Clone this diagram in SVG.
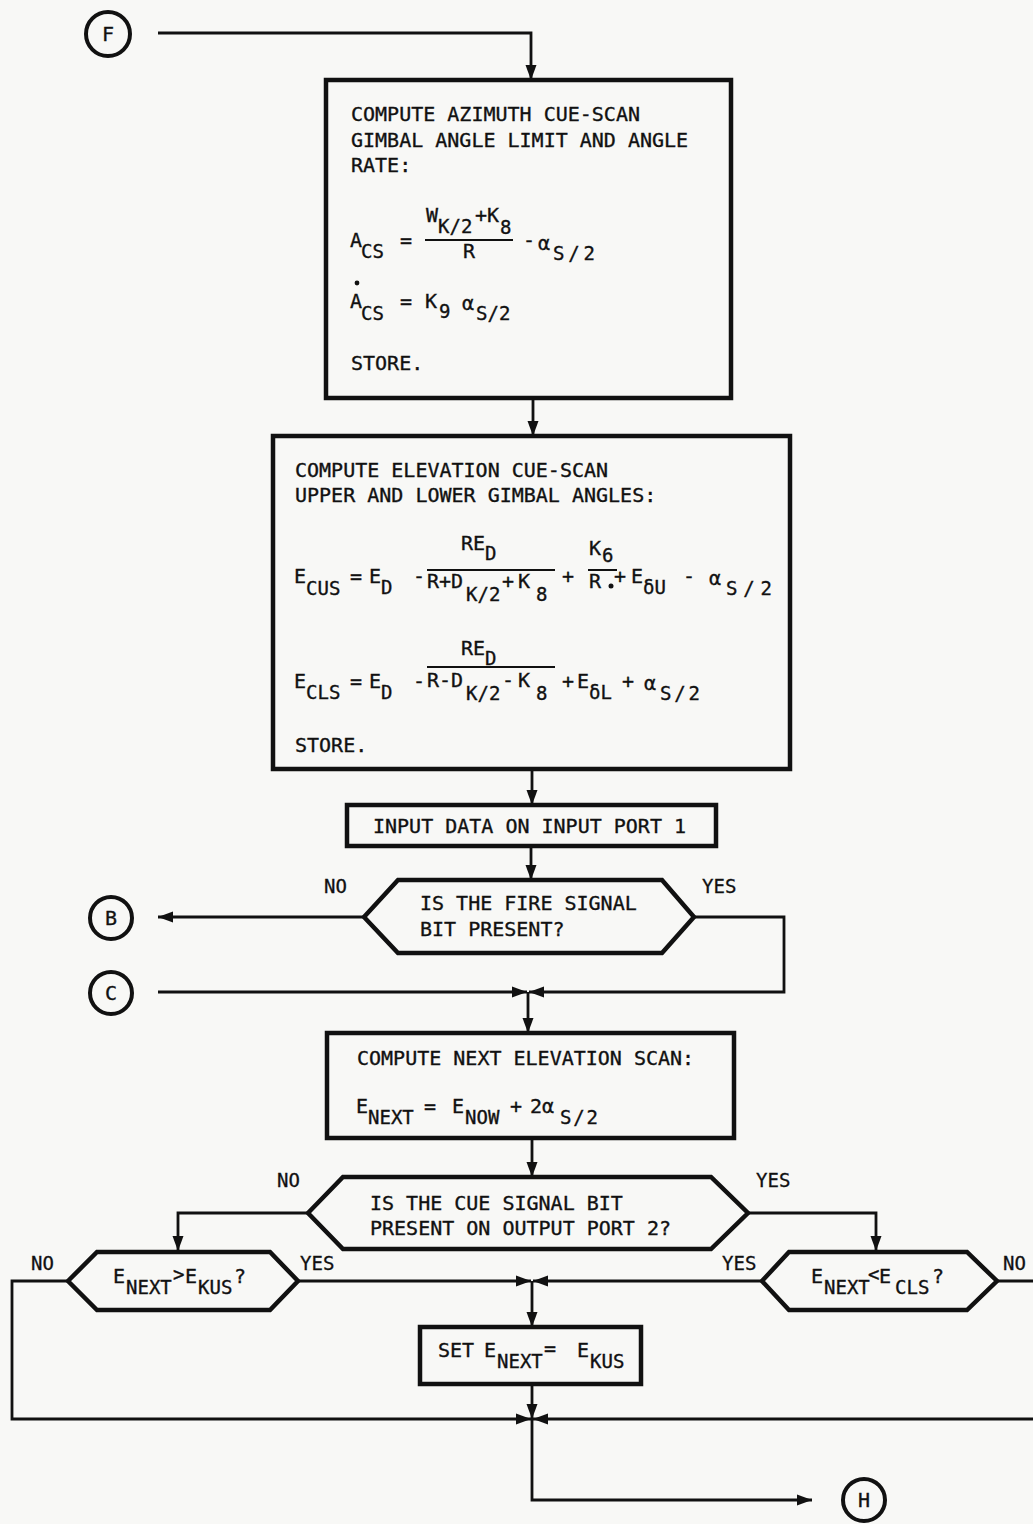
<svg xmlns="http://www.w3.org/2000/svg" width="1033" height="1524" viewBox="0 0 1033 1524">
<style>
.t{font-family:"DejaVu Sans Mono","Liberation Mono",monospace;font-size:20px;fill:#111;stroke:#111;stroke-width:0.35}
.s{font-family:"DejaVu Sans Mono","Liberation Mono",monospace;font-size:19px;fill:#111;stroke:#111;stroke-width:0.35}
.l{font-family:"DejaVu Sans Mono","Liberation Mono",monospace;font-size:19px;fill:#111;stroke:#111;stroke-width:0.3}
.c{font-family:"DejaVu Sans Mono","Liberation Mono",monospace;font-size:20px;fill:#111;text-anchor:middle;stroke:#111;stroke-width:0.35}
.box{fill:none;stroke:#111;stroke-width:4.5}
.hex{fill:none;stroke:#111;stroke-width:4.5;stroke-linejoin:miter}
.circ{fill:none;stroke:#111;stroke-width:4}
.fr{stroke:#111;stroke-width:2}
.con path{fill:none;stroke:#111;stroke-width:2.8}
</style>
<defs>
<marker id="ah" markerUnits="userSpaceOnUse" markerWidth="16" markerHeight="12" refX="15" refY="6" orient="auto">
<path d="M0,0.5 L15,6 L0,11.5 z" fill="#111"/>
</marker>
</defs>
<rect width="1033" height="1524" fill="#f8f8f6"/>

<g id="connectors" class="con">
<path d="M158,33 H531 V80" marker-end="url(#ah)"/>
<path d="M533,398 V436" marker-end="url(#ah)"/>
<path d="M532,769 V805" marker-end="url(#ah)"/>
<path d="M531,846 V880" marker-end="url(#ah)"/>
<path d="M364,917 H158" marker-end="url(#ah)"/>
<path d="M694,917 H784 V992 H529" marker-end="url(#ah)"/>
<path d="M158,992 H527" marker-end="url(#ah)"/>
<path d="M528,992 V1033" marker-end="url(#ah)"/>
<path d="M532,1138 V1177" marker-end="url(#ah)"/>
<path d="M308,1213 H178 V1251" marker-end="url(#ah)"/>
<path d="M748,1213 H876 V1251" marker-end="url(#ah)"/>
<path d="M298,1281 H531" marker-end="url(#ah)"/>
<path d="M762,1281 H533" marker-end="url(#ah)"/>
<path d="M532,1281 V1327" marker-end="url(#ah)"/>
<path d="M532,1384 V1419" marker-end="url(#ah)"/>
<path d="M68,1281 H12 V1419 H531" marker-end="url(#ah)"/>
<path d="M997,1281 H1033"/>
<path d="M1033,1419 H533" marker-end="url(#ah)"/>
<path d="M532,1419 V1500 H812" marker-end="url(#ah)"/>
<text class="l" x="324" y="893">NO</text>
<text class="l" x="702" y="893">YES</text>
<text class="l" x="277" y="1187">NO</text>
<text class="l" x="756" y="1187">YES</text>
<text class="l" x="31" y="1270">NO</text>
<text class="l" x="300" y="1270">YES</text>
<text class="l" x="722" y="1270">YES</text>
<text class="l" x="1003" y="1270">NO</text>
</g>

<g id="node-F">
<circle class="circ" cx="108" cy="34" r="22"/>
<text class="c" x="108" y="41">F</text>
</g>

<g id="node-azimuth">
<rect class="box" x="326" y="80" width="405" height="318"/>
<text class="t" x="351" y="121">COMPUTE AZIMUTH CUE-SCAN</text>
<text class="t" x="351" y="147">GIMBAL ANGLE LIMIT AND ANGLE</text>
<text class="t" x="351" y="172">RATE:</text>
<text class="t" x="350" y="247">A</text>
<text class="s" x="361" y="258">CS</text>
<text class="t" x="400" y="247">=</text>
<text class="t" x="426" y="222">W</text>
<text class="s" x="438" y="233">K/2</text>
<text class="t" x="475" y="222">+</text>
<text class="t" x="487" y="222">K</text>
<text class="s" x="500" y="234">8</text>
<line class="fr" x1="425" y1="240" x2="513" y2="240"/>
<text class="t" x="463" y="258">R</text>
<text class="t" x="523" y="247">-</text>
<text class="t" x="538" y="250">α</text>
<text class="s" x="553" y="260" textLength="42" lengthAdjust="spacing">S/2</text>
<circle cx="357" cy="283" r="2.4" fill="#111"/>
<text class="t" x="350" y="308">A</text>
<text class="s" x="361" y="320">CS</text>
<text class="t" x="400" y="308">=</text>
<text class="t" x="425" y="308">K</text>
<text class="s" x="439" y="318">9</text>
<text class="t" x="462" y="310">α</text>
<text class="s" x="476" y="320">S/2</text>
<text class="t" x="351" y="370">STORE.</text>
</g>

<g id="node-elevation">
<rect class="box" x="273" y="436" width="517" height="333"/>
<text class="t" x="295" y="477">COMPUTE ELEVATION CUE-SCAN</text>
<text class="t" x="295" y="502">UPPER AND LOWER GIMBAL ANGLES:</text>
<text class="t" x="294" y="583">E</text>
<text class="s" x="306" y="595">CUS</text>
<text class="t" x="350" y="583">=</text>
<text class="t" x="369" y="583">E</text>
<text class="s" x="381" y="594">D</text>
<text class="t" x="413" y="583">-</text>
<text class="t" x="461" y="550">RE</text>
<text class="s" x="485" y="560">D</text>
<line class="fr" x1="427" y1="570" x2="555" y2="570"/>
<text class="t" x="427" y="588">R+D</text>
<text class="s" x="466" y="601">K/2</text>
<text class="t" x="502" y="588">+</text>
<text class="t" x="518" y="588">K</text>
<text class="s" x="536" y="601">8</text>
<text class="t" x="562" y="583">+</text>
<text class="t" x="589" y="555">K</text>
<text class="s" x="602" y="562">6</text>
<line class="fr" x1="588" y1="570" x2="617" y2="570"/>
<text class="t" x="589" y="588">R</text>
<circle cx="611" cy="586" r="2.5" fill="#111"/>
<text class="t" x="614" y="583">+</text>
<text class="t" x="631" y="583">E</text>
<text class="s" x="643" y="594">δU</text>
<text class="t" x="683" y="583">-</text>
<text class="t" x="709" y="585">α</text>
<text class="s" x="726" y="595" textLength="46" lengthAdjust="spacing">S/2</text>
<text class="t" x="294" y="688">E</text>
<text class="s" x="306" y="699">CLS</text>
<text class="t" x="350" y="688">=</text>
<text class="t" x="369" y="688">E</text>
<text class="s" x="381" y="699">D</text>
<text class="t" x="413" y="688">-</text>
<text class="t" x="461" y="655">RE</text>
<text class="s" x="485" y="665">D</text>
<line class="fr" x1="427" y1="667" x2="555" y2="667"/>
<text class="t" x="427" y="687">R-D</text>
<text class="s" x="466" y="700">K/2</text>
<text class="t" x="502" y="687">-</text>
<text class="t" x="518" y="687">K</text>
<text class="s" x="536" y="700">8</text>
<text class="t" x="562" y="688">+</text>
<text class="t" x="577" y="688">E</text>
<text class="s" x="589" y="699">δL</text>
<text class="t" x="622" y="688">+</text>
<text class="t" x="644" y="690">α</text>
<text class="s" x="660" y="700" textLength="40" lengthAdjust="spacing">S/2</text>
<text class="t" x="295" y="752">STORE.</text>
</g>

<g id="node-input">
<rect class="box" x="347" y="805" width="369" height="41"/>
<text class="t" x="373" y="833" textLength="313" lengthAdjust="spacing">INPUT DATA ON INPUT PORT 1</text>
</g>

<g id="node-fire">
<path class="hex" d="M364,917 L398,880 H662 L694,917 L662,953 H398 Z"/>
<text class="t" x="420" y="910">IS THE FIRE SIGNAL</text>
<text class="t" x="420" y="936">BIT PRESENT?</text>
</g>

<g id="node-B">
<circle class="circ" cx="111" cy="918" r="21"/>
<text class="c" x="111" y="925">B</text>
</g>

<g id="node-C">
<circle class="circ" cx="111" cy="993" r="21"/>
<text class="c" x="111" y="1000">C</text>
</g>

<g id="node-next">
<rect class="box" x="327" y="1033" width="407" height="105"/>
<text class="t" x="357" y="1065">COMPUTE NEXT ELEVATION SCAN:</text>
<text class="t" x="356" y="1113">E</text>
<text class="s" x="368" y="1124">NEXT</text>
<text class="t" x="424" y="1113">=</text>
<text class="t" x="452" y="1113">E</text>
<text class="s" x="465" y="1124">NOW</text>
<text class="t" x="510" y="1113">+</text>
<text class="t" x="530" y="1113">2α</text>
<text class="s" x="560" y="1124" textLength="38" lengthAdjust="spacing">S/2</text>
</g>

<g id="node-cue">
<path class="hex" d="M308,1213 L343,1177 H711 L748,1213 L711,1249 H343 Z"/>
<text class="t" x="370" y="1210">IS THE CUE SIGNAL BIT</text>
<text class="t" x="370" y="1235">PRESENT ON OUTPUT PORT 2?</text>
</g>

<g id="node-kus">
<path class="hex" d="M68,1281 L97,1252 H270 L298,1281 L270,1310 H97 Z"/>
<text class="t" x="113" y="1283">E</text>
<text class="s" x="126" y="1294">NEXT</text>
<text class="s" x="173" y="1281">&gt;</text>
<text class="t" x="185" y="1283">E</text>
<text class="s" x="198" y="1294">KUS</text>
<text class="t" x="234" y="1283">?</text>
</g>

<g id="node-cls">
<path class="hex" d="M762,1281 L789,1252 H967 L997,1281 L967,1310 H789 Z"/>
<text class="t" x="811" y="1283">E</text>
<text class="s" x="824" y="1294">NEXT</text>
<text class="s" x="868" y="1281">&lt;</text>
<text class="t" x="879" y="1283">E</text>
<text class="s" x="895" y="1294">CLS</text>
<text class="t" x="932" y="1283">?</text>
</g>

<g id="node-set">
<rect class="box" x="420" y="1327" width="221" height="57"/>
<text class="t" x="438" y="1357">SET</text>
<text class="t" x="484" y="1357">E</text>
<text class="s" x="497" y="1368">NEXT</text>
<text class="t" x="544" y="1355">=</text>
<text class="t" x="577" y="1357">E</text>
<text class="s" x="590" y="1368">KUS</text>
</g>

<g id="node-H">
<circle class="circ" cx="864" cy="1500" r="21"/>
<text class="c" x="864" y="1507">H</text>
</g>
</svg>
